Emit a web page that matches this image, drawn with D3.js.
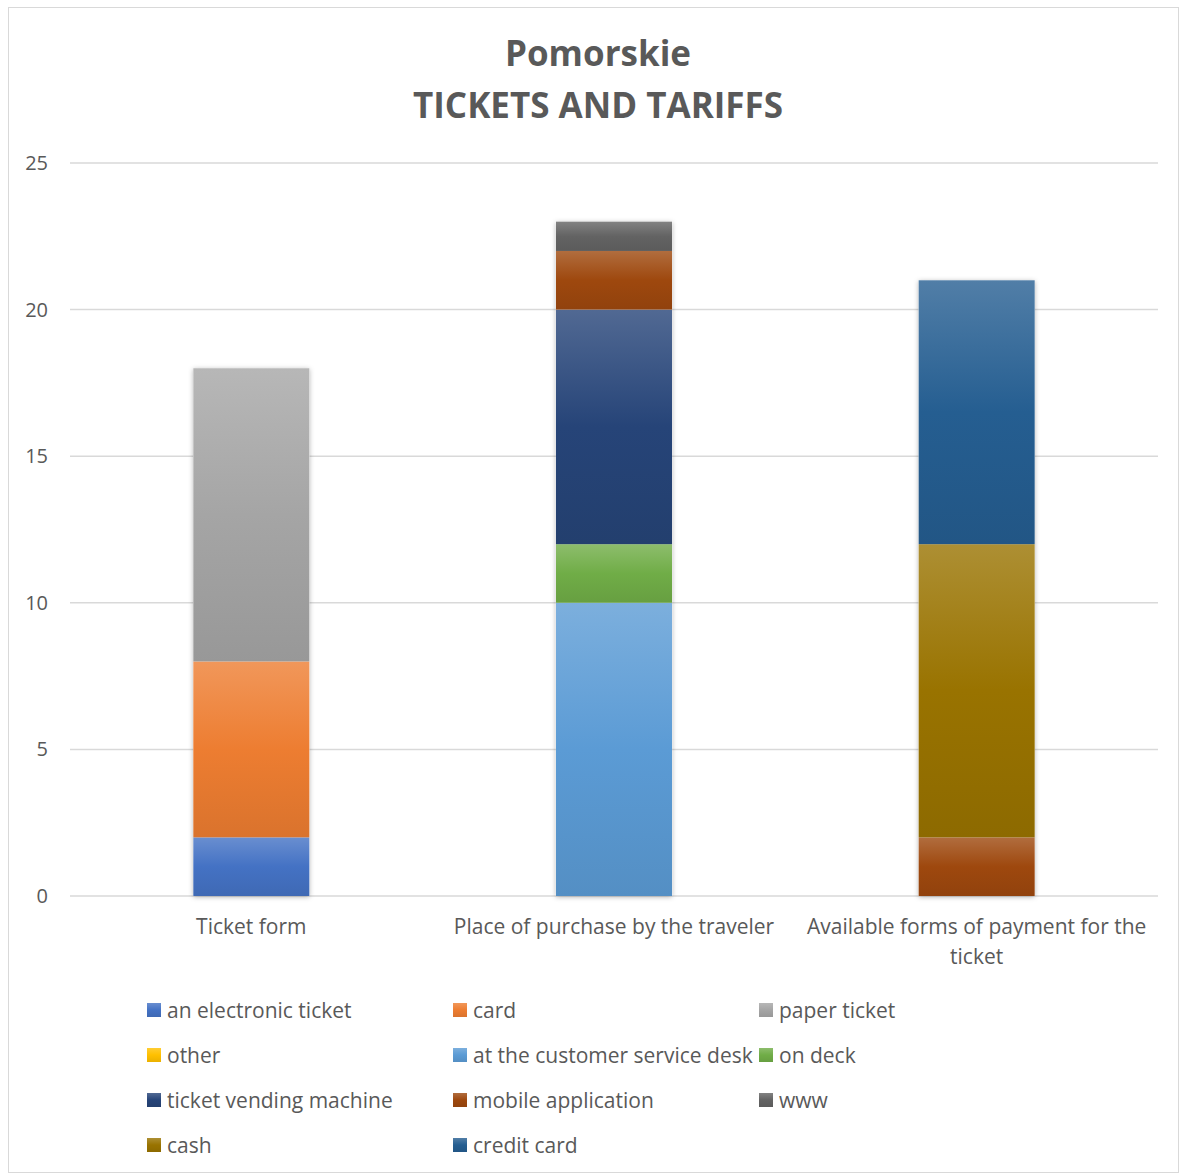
<!DOCTYPE html>
<html>
<head>
<meta charset="utf-8">
<script src="https://cdn.jsdelivr.net/npm/d3@7"></script>
<style>
  body { margin: 0; background: #fff; }
  text { font-family: "Open Sans", "Noto Sans", sans-serif; fill: #595959; }
</style>
</head>
<body>
<div id="chart"></div>
<script>
// data
const categories = ["Ticket form", "Place of purchase by the traveler", "Available forms of payment for the ticket"];
const seriesNames = ["an electronic ticket", "card", "paper ticket", "other", "at the customer service desk",
  "on deck", "ticket vending machine", "mobile application", "www", "cash", "credit card"];
const seriesColors = ["#4472C4", "#ED7D31", "#A5A5A5", "#FFC000", "#5B9BD5",
  "#70AD47", "#264478", "#9E480E", "#636363", "#997300", "#255E91"];
// values per series, one per category
const seriesValues = [
  [2, 0, 0],   // an electronic ticket
  [6, 0, 0],   // card
  [10, 0, 0],  // paper ticket
  [0, 0, 0],   // other
  [0, 10, 0],  // at the customer service desk
  [0, 2, 0],   // on deck
  [0, 8, 0],   // ticket vending machine
  [0, 2, 2],   // mobile application
  [0, 1, 0],   // www
  [0, 0, 10],  // cash
  [0, 0, 9]    // credit card
];
const yTicks = [0, 5, 10, 15, 20, 25];

const width = 1179, height = 1173;
const margin = { left: 70, right: 21 };

const svg = d3.select("#chart").append("svg")
  .attr("width", width)
  .attr("height", height);

// chart border
svg.append("rect")
  .attr("x", 8.5).attr("y", 7.5)
  .attr("width", width - 9).attr("height", height - 8)
  .attr("fill", "#fff")
  .attr("stroke", "#d9d9d9");

const defs = svg.append("defs");
seriesColors.forEach((c, i) => {
  const g = defs.append("linearGradient")
    .attr("id", "grad" + i)
    .attr("x1", 0).attr("y1", 0).attr("x2", 0).attr("y2", 1);
  g.append("stop").attr("offset", "0%").attr("stop-color", d3.interpolateRgb(c, "#fff")(0.2));
  g.append("stop").attr("offset", "50%").attr("stop-color", c);
  g.append("stop").attr("offset", "100%").attr("stop-color", d3.interpolateRgb(c, "#000")(0.08));
});
const shadow = defs.append("filter").attr("id", "shadow")
  .attr("x", "-20%").attr("y", "-5%").attr("width", "140%").attr("height", "110%");
shadow.append("feDropShadow")
  .attr("dx", 0).attr("dy", 1).attr("stdDeviation", 2.5)
  .attr("flood-color", "#000").attr("flood-opacity", 0.3);

// title
svg.append("text")
  .attr("x", 598).attr("y", 66)
  .attr("text-anchor", "middle")
  .style("font-size", "35px").style("font-weight", "bold")
  .text("Pomorskie");
svg.append("text")
  .attr("x", 598).attr("y", 118)
  .attr("text-anchor", "middle")
  .style("font-size", "35px").style("font-weight", "bold")
  .text("TICKETS AND TARIFFS");

const x = d3.scaleBand()
  .domain(categories)
  .range([margin.left, width - margin.right])
  .paddingInner(0.68).paddingOuter(0.34);

const y = d3.scaleLinear()
  .domain([0, 25])
  .range([896, 163]);

// gridlines
svg.append("g")
  .selectAll("line")
  .data(yTicks)
  .join("line")
  .attr("x1", margin.left).attr("x2", width - margin.right)
  .attr("y1", d => y(d)).attr("y2", d => y(d))
  .attr("stroke", "#d9d9d9")
  .attr("stroke-width", 1.5);

// y tick labels
svg.append("g")
  .selectAll("text")
  .data(yTicks)
  .join("text")
  .attr("x", 48).attr("y", d => y(d) + 7)
  .attr("text-anchor", "end")
  .style("font-size", "20px")
  .text(d => d);

// stack
const rows = categories.map((c, j) => {
  const r = { category: c };
  seriesNames.forEach((s, i) => r[s] = seriesValues[i][j]);
  return r;
});
const stacked = d3.stack().keys(seriesNames)(rows);

const bars = svg.append("g");
stacked.forEach((layer, i) => {
  bars.append("g")
    .attr("fill", "url(#grad" + i + ")")
    .selectAll("rect")
    .data(layer.filter(d => d[1] - d[0] > 0))
    .join("rect")
    .attr("x", d => x(d.data.category))
    .attr("width", x.bandwidth())
    .attr("y", d => y(d[1]))
    .attr("height", d => y(d[0]) - y(d[1]));
});
// shadow behind each whole bar
bars.insert("g", ":first-child")
  .selectAll("rect")
  .data(categories)
  .join("rect")
  .attr("x", d => x(d))
  .attr("width", x.bandwidth())
  .attr("y", (d, j) => y(d3.sum(seriesValues, v => v[j])))
  .attr("height", (d, j) => y(0) - y(d3.sum(seriesValues, v => v[j])))
  .attr("fill", "#fff")
  .attr("filter", "url(#shadow)");

// category labels
const catLines = [["Ticket form"], ["Place of purchase by the traveler"], ["Available forms of payment for the", "ticket"]];
svg.append("g")
  .selectAll("text")
  .data(categories)
  .join("text")
  .attr("x", d => x(d) + x.bandwidth() / 2)
  .attr("y", 934)
  .attr("text-anchor", "middle")
  .style("font-size", "21px")
  .each(function(d, j) {
    d3.select(this).selectAll("tspan")
      .data(catLines[j])
      .join("tspan")
      .attr("x", x(d) + x.bandwidth() / 2)
      .attr("dy", (t, k) => k === 0 ? 0 : 30)
      .text(t => t);
  });

// legend
const legendCols = [147, 453, 759];
const legend = svg.append("g")
  .selectAll("g")
  .data(seriesNames)
  .join("g")
  .attr("transform", (d, i) => `translate(${legendCols[i % 3]},${1010 + Math.floor(i / 3) * 45})`);
legend.append("rect")
  .attr("x", 0).attr("y", -7)
  .attr("width", 14).attr("height", 14)
  .attr("fill", (d, i) => "url(#grad" + i + ")");
legend.append("text")
  .attr("x", 20).attr("y", 7.5)
  .style("font-size", "21px")
  .text(d => d);
</script>
</body>
</html>
